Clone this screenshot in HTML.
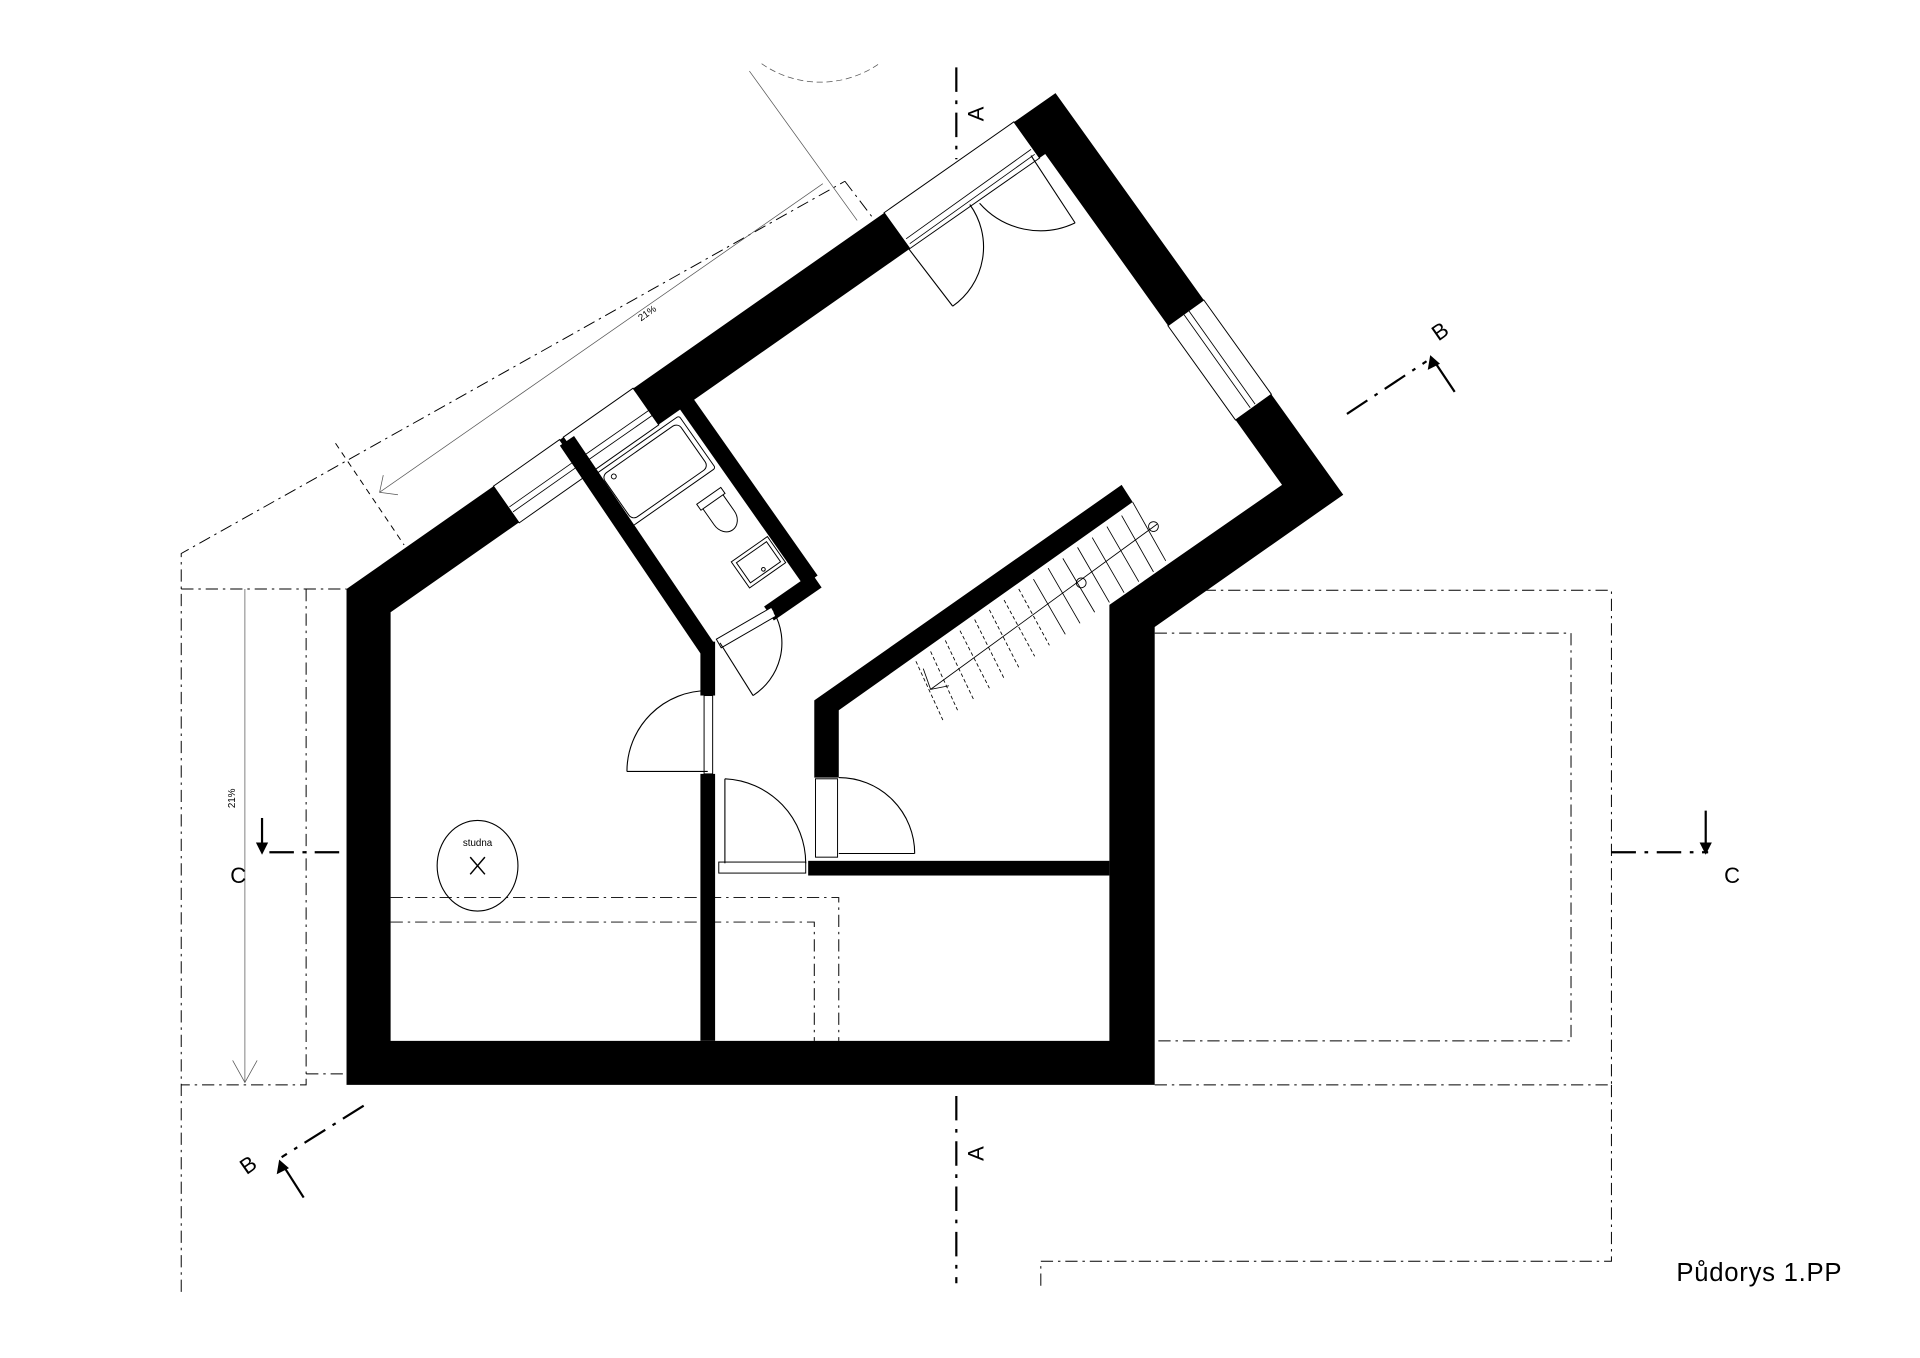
<!DOCTYPE html>
<html><head><meta charset="utf-8"><style>
html,body{margin:0;padding:0;background:#fff;}
svg{display:block;}
text{font-family:"Liberation Sans",sans-serif;fill:#000;}
</style></head><body>
<svg width="1920" height="1358" viewBox="0 0 1568 1109" xmlns="http://www.w3.org/2000/svg">
<rect width="1568" height="1109" fill="#fff"/>

<g fill="none" stroke="#000" stroke-width="0.8" stroke-dasharray="10 4 2 4">
  <polyline points="148,1055 148,452 690,148"/>
  <polyline points="148,481 283,481"/>
  <polyline points="250,481 250,886 148,886"/>
  <line x1="274" y1="362" x2="330" y2="445" stroke-dasharray="5 4"/>
  <line x1="690" y1="148" x2="722" y2="190"/>
  <line x1="722" y1="174" x2="828" y2="100"/>
  <polyline points="943,482 1316,482 1316,886 943,886"/>
  <polyline points="943,517 1283,517 1283,850 943,850"/>
  <polyline points="1316,886 1316,1030 850,1030 850,1050"/>
  <polyline points="319,733 685,733 685,850"/>
  <polyline points="319,753 665,753 665,850"/>
  <line x1="250" y1="877" x2="283" y2="877"/>
</g>
<g fill="none" stroke="#555" stroke-width="0.6">
  <line x1="612" y1="58" x2="700" y2="180"/>
  <line x1="310" y1="402" x2="672" y2="150"/>
  <polyline points="313,388 310,402 325,404"/>
  <line x1="200" y1="481" x2="200" y2="884"/>
  <polyline points="190,866 200,884 210,866"/>
  <path d="M622,52 A84,84 0 0 0 718,52" stroke-dasharray="5 3"/>
</g>
<text x="530" y="258" font-size="8" transform="rotate(-35 530 258)" text-anchor="middle">21%</text>
<text x="192" y="652" font-size="8" transform="rotate(-90 192 652)" text-anchor="middle">21%</text>

<path fill="#000" fill-rule="evenodd" d="M283,886 L943,886 L943,512 L1097,404 L862,76 L283,481 Z M319,850 L906,850 L906,494 L1047,396 L853.6,125.7 L319,500 Z"/>

<g fill="#fff" stroke="#000" stroke-width="0.8">
  <polygon points="403,397 457,359 478,389 424,427"/>
  <polygon points="460,357 517,317 538,347 481,387"/>
  <polygon points="722,173.7 828,99.5 849,129 743,203"/>
  <polygon points="983.1,245 1038.3,322 1009,343 953.8,266"/>
</g>
<g fill="none" stroke="#000" stroke-width="0.7">
  <line x1="416" y1="414" x2="470" y2="376"/><line x1="419" y1="418" x2="473" y2="380"/>
  <line x1="474" y1="374" x2="530" y2="335"/><line x1="477" y1="378" x2="533" y2="339"/>
  <line x1="740" y1="195" x2="842" y2="122"/><line x1="743" y1="199" x2="845" y2="126"/>
  <line x1="967" y1="257" x2="1021" y2="333"/><line x1="971" y1="254" x2="1025" y2="330"/>
</g>

<g stroke="#000" stroke-width="14" fill="none" stroke-linecap="butt">
  <line x1="463" y1="360" x2="578" y2="530"/>
  <line x1="558" y1="326" x2="662" y2="474"/>
  <line x1="667" y1="474" x2="628" y2="501"/>
</g>
<rect x="572" y="524" width="12" height="44" fill="#000"/>
<rect x="572" y="632" width="12" height="218" fill="#000"/>
<polygon points="665,572 916,396 925,410 685,580 685,635 665,635" fill="#000"/>
<rect x="660" y="703" width="246" height="12" fill="#000"/>

<g fill="#fff" stroke="#000" stroke-width="0.8">
  <rect x="575" y="568" width="7" height="64"/>
  <rect x="587" y="704" width="71" height="9"/>
  <rect x="666" y="636" width="18" height="64"/>
  <polygon points="585,522 630,496 634,503 589,529"/>
</g>
<g fill="none" stroke="#000" stroke-width="0.9">
  <line x1="578" y1="630" x2="512" y2="630"/>
  <path d="M512,630 A66,66 0 0 1 578,564"/>
  <line x1="592" y1="705" x2="592" y2="636"/>
  <path d="M592,636 A69,69 0 0 1 658,705"/>
  <line x1="685" y1="697" x2="747" y2="697"/>
  <path d="M747,697 A62,62 0 0 0 685,635"/>
  <line x1="588" y1="525" x2="615" y2="568"/>
  <path d="M615,568 A51,51 0 0 0 632,500"/>
  <line x1="742" y1="203" x2="778" y2="250"/>
  <path d="M778,250 A59,59 0 0 0 792,167"/>
  <line x1="842" y1="127" x2="878" y2="182"/>
  <path d="M878,182 A66,66 0 0 1 800,166"/>
</g>

<g fill="none" stroke="#000" stroke-width="0.8">
  <g transform="translate(535,385) rotate(-35)">
    <rect x="-42" y="-26" width="84" height="52" rx="2"/>
    <rect x="-38" y="-22" width="76" height="44" rx="5"/>
    <circle cx="-30" cy="-16" r="2"/>
  </g>
  <g transform="translate(588,418) rotate(-35)">
    <rect x="-12" y="-16" width="24" height="6"/>
    <path d="M-10,-10 L-10,6 A10,12 0 0 0 10,6 L10,-10"/>
  </g>
  <g transform="translate(620,460) rotate(-35)">
    <rect x="-18" y="-14" width="36" height="26"/>
    <rect x="-15" y="-11" width="30" height="20"/>
    <circle cx="0" cy="6" r="1.5"/>
  </g>
</g>

<g fill="none" stroke="#000" stroke-width="0.7">
  <g stroke-dasharray="3 2">
    <line x1="748" y1="540" x2="770" y2="588"/>
    <line x1="760" y1="532" x2="782" y2="580"/>
    <line x1="772" y1="523" x2="795" y2="571"/>
    <line x1="784" y1="515" x2="808" y2="562"/>
    <line x1="796" y1="506" x2="820" y2="554"/>
    <line x1="808" y1="498" x2="832" y2="545"/>
    <line x1="820" y1="490" x2="845" y2="536"/>
    <line x1="832" y1="481" x2="857" y2="527"/>
  </g>
  <line x1="844" y1="473" x2="870" y2="518"/>
  <line x1="856" y1="464" x2="882" y2="509"/>
  <line x1="868" y1="456" x2="894" y2="500"/>
  <line x1="880" y1="447" x2="906" y2="492"/>
  <line x1="892" y1="439" x2="918" y2="484"/>
  <line x1="904" y1="430" x2="930" y2="475"/>
  <line x1="916" y1="421" x2="942" y2="467"/>
  <line x1="925" y1="410" x2="952" y2="458"/>
  <line x1="760" y1="563" x2="945" y2="428"/>
  <polyline points="754,546 760,563 775,560"/>
  <circle cx="883" cy="476" r="4"/>
  <circle cx="942" cy="430" r="4"/>
</g>

<ellipse cx="390" cy="707" rx="33" ry="37" fill="none" stroke="#000" stroke-width="0.9"/>
<text x="390" y="691" font-size="8" text-anchor="middle">studna</text>
<g stroke="#000" stroke-width="1.2"><line x1="384" y1="700" x2="396" y2="714"/><line x1="396" y1="700" x2="384" y2="714"/></g>

<g fill="none" stroke="#000" stroke-width="1.8" stroke-dasharray="20 7 3 7">
  <line x1="781" y1="55" x2="781" y2="130"/>
  <line x1="781" y1="895" x2="781" y2="1048"/>
  <line x1="1100" y1="338" x2="1165" y2="295"/>
  <line x1="297" y1="903" x2="230" y2="945"/>
  <line x1="220" y1="696" x2="283" y2="696"/>
  <line x1="1316" y1="696" x2="1395" y2="696"/>
</g>
<g stroke="#000" stroke-width="1.8" fill="none">
  <line x1="1188" y1="320" x2="1172" y2="296"/>
  <line x1="248" y1="978" x2="232" y2="953"/>
  <line x1="214" y1="668" x2="214" y2="694"/>
  <line x1="1393" y1="662" x2="1393" y2="694"/>
</g>
<g fill="#000">
  <polygon points="1168,290 1166,302 1176,297"/>
  <polygon points="228,947 226,959 236,954"/>
  <polygon points="214,698 209,688 219,688"/>
  <polygon points="1393,698 1388,688 1398,688"/>
</g>
<g font-size="18">
  <text x="803" y="99" transform="rotate(-90 803 99)">A</text>
  <text x="803" y="948" transform="rotate(-90 803 948)">A</text>
  <text x="1170" y="276" transform="rotate(-35 1177 270)">B</text>
  <text x="196" y="957" transform="rotate(-35 203 950)">B</text>
  <text x="188" y="721">C</text>
  <text x="1408" y="721">C</text>
  <text x="1369" y="1046" font-size="21" letter-spacing="0.6">Půdorys 1.PP</text>
</g>
</svg>
</body></html>
